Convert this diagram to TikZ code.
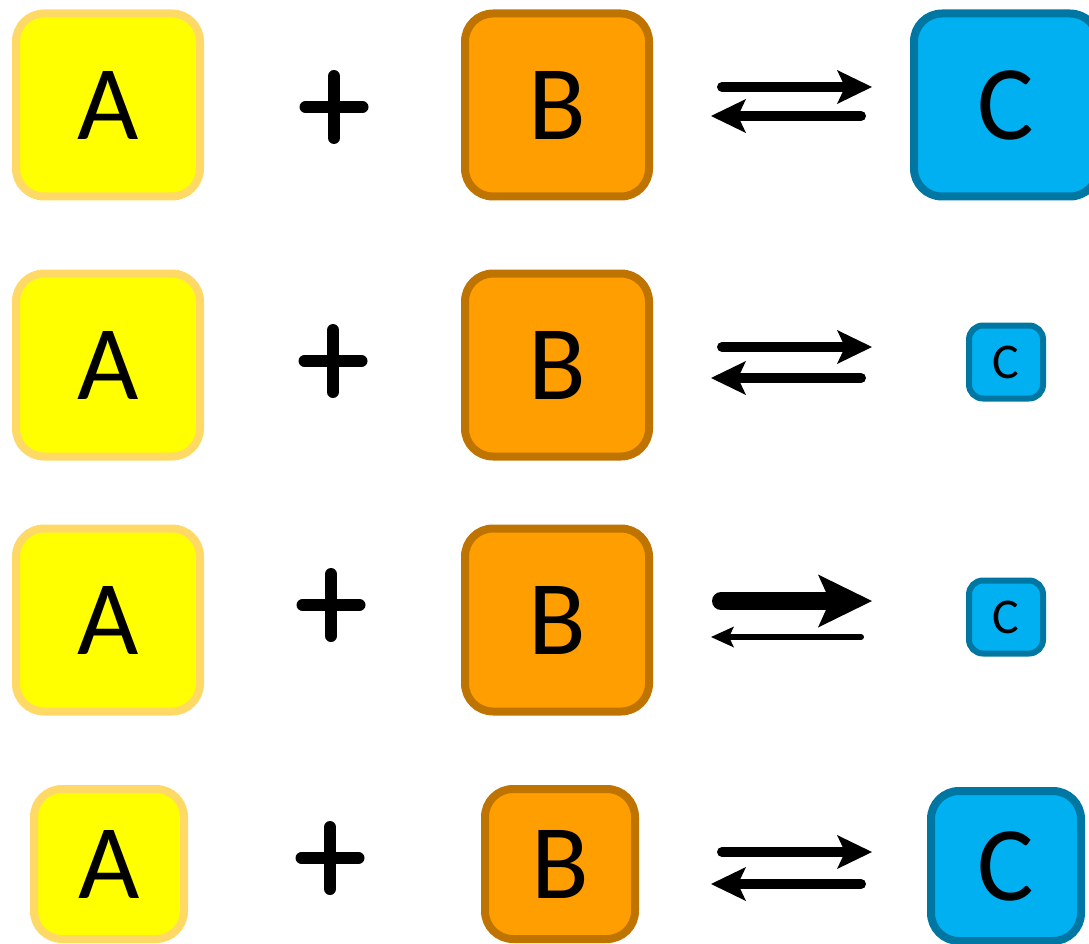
\documentclass[tikz,border=0pt]{standalone}
\usepackage{fontspec}
\setmainfont{Carlito}
\usetikzlibrary{arrows.meta}
\definecolor{aFill}{HTML}{FFFF00}
\definecolor{aLine}{HTML}{FFD966}
\definecolor{bFill}{HTML}{FF9E00}
\definecolor{bLine}{HTML}{BF7300}
\definecolor{cFill}{HTML}{00B0F0}
\definecolor{cLine}{HTML}{0076A3}
\tikzset{
  x=1pt, y=-1pt,
  box/.style={rectangle, rounded corners=28pt, line width=8pt, inner sep=0pt,
    font=\fontsize{106}{110}\selectfont},
  abox/.style={box, fill=aFill, draw=aLine},
  bbox/.style={box, fill=bFill, draw=bLine},
  cbox/.style={box, fill=cFill, draw=cLine},
  big/.style={minimum width=184pt, minimum height=183pt},
  mid/.style={minimum width=150pt, minimum height=150pt},
  smallc/.style={cbox, rounded corners=14pt, line width=6pt, minimum width=74pt, minimum height=73pt,
    font=\fontsize{50}{54}\selectfont},
  plusline/.style={line width=12pt, line cap=round},
  rxn/.style={line width=10pt, line cap=round,
    -{Stealth[length=35pt, width=34pt, inset=8pt, line width=0pt]}},
  rxnthick/.style={line width=18pt, line cap=round,
    -{Stealth[length=54pt, width=53pt, inset=12pt, line width=0pt]}},
  rxnthin/.style={line width=6pt, line cap=round,
    -{Stealth[length=23pt, width=21pt, inset=5pt, line width=0pt]}},
}
\begin{document}
\begin{tikzpicture}
\useasboundingbox (0,0) rectangle (1089,944);
\clip (0,0) rectangle (1089,944);
% row 1
\node[abox, big] (a1) at (108,105) {A};
\node[bbox, big] (b1) at (557,105) {B};
\node[cbox, big] (c1) at (1006,105) {C};
\coordinate (p1) at (334,107);
\draw[plusline] ([xshift=-28.5pt]p1) -- ([xshift=28.5pt]p1);
\draw[plusline] ([yshift=-31pt]p1) -- ([yshift=31pt]p1);
\coordinate (f1s) at (722,87); \coordinate (f1e) at (872,87);
\coordinate (r1s) at (861,116); \coordinate (r1e) at (711,116);
\draw[rxn] (f1s) -- (f1e);
\draw[rxn] (r1s) -- (r1e);
% row 2
\node[abox, big] (a2) at (108,365) {A};
\node[bbox, big] (b2) at (557,365) {B};
\node[smallc] (c2) at (1006,362) {C};
\coordinate (p2) at (333,361);
\draw[plusline] ([xshift=-28.5pt]p2) -- ([xshift=28.5pt]p2);
\draw[plusline] ([yshift=-31pt]p2) -- ([yshift=31pt]p2);
\coordinate (f2s) at (722,347); \coordinate (f2e) at (872,347);
\coordinate (r2s) at (861,378); \coordinate (r2e) at (711,378);
\draw[rxn] (f2s) -- (f2e);
\draw[rxn] (r2s) -- (r2e);
% row 3
\node[abox, big] (a3) at (108,620) {A};
\node[bbox, big] (b3) at (557,620) {B};
\node[smallc] (c3) at (1006,617) {C};
\coordinate (p3) at (331,605);
\draw[plusline] ([xshift=-28.5pt]p3) -- ([xshift=28.5pt]p3);
\draw[plusline] ([yshift=-31pt]p3) -- ([yshift=31pt]p3);
\coordinate (f3s) at (721,601); \coordinate (f3e) at (872,601);
\coordinate (r3s) at (861,637); \coordinate (r3e) at (711,637);
\draw[rxnthick] (f3s) -- (f3e);
\draw[rxnthin] (r3s) -- (r3e);
% row 4
\node[abox, mid] (a4) at (109,864) {A};
\node[bbox, mid] (b4) at (560,864) {B};
\node[cbox, mid] (c4) at (1006,866) {C};
\coordinate (p4) at (330,858);
\draw[plusline] ([xshift=-28.5pt]p4) -- ([xshift=28.5pt]p4);
\draw[plusline] ([yshift=-31pt]p4) -- ([yshift=31pt]p4);
\coordinate (f4s) at (722,852); \coordinate (f4e) at (872,852);
\coordinate (r4s) at (861,884); \coordinate (r4e) at (711,884);
\draw[rxn] (f4s) -- (f4e);
\draw[rxn] (r4s) -- (r4e);
\end{tikzpicture}
\end{document}
